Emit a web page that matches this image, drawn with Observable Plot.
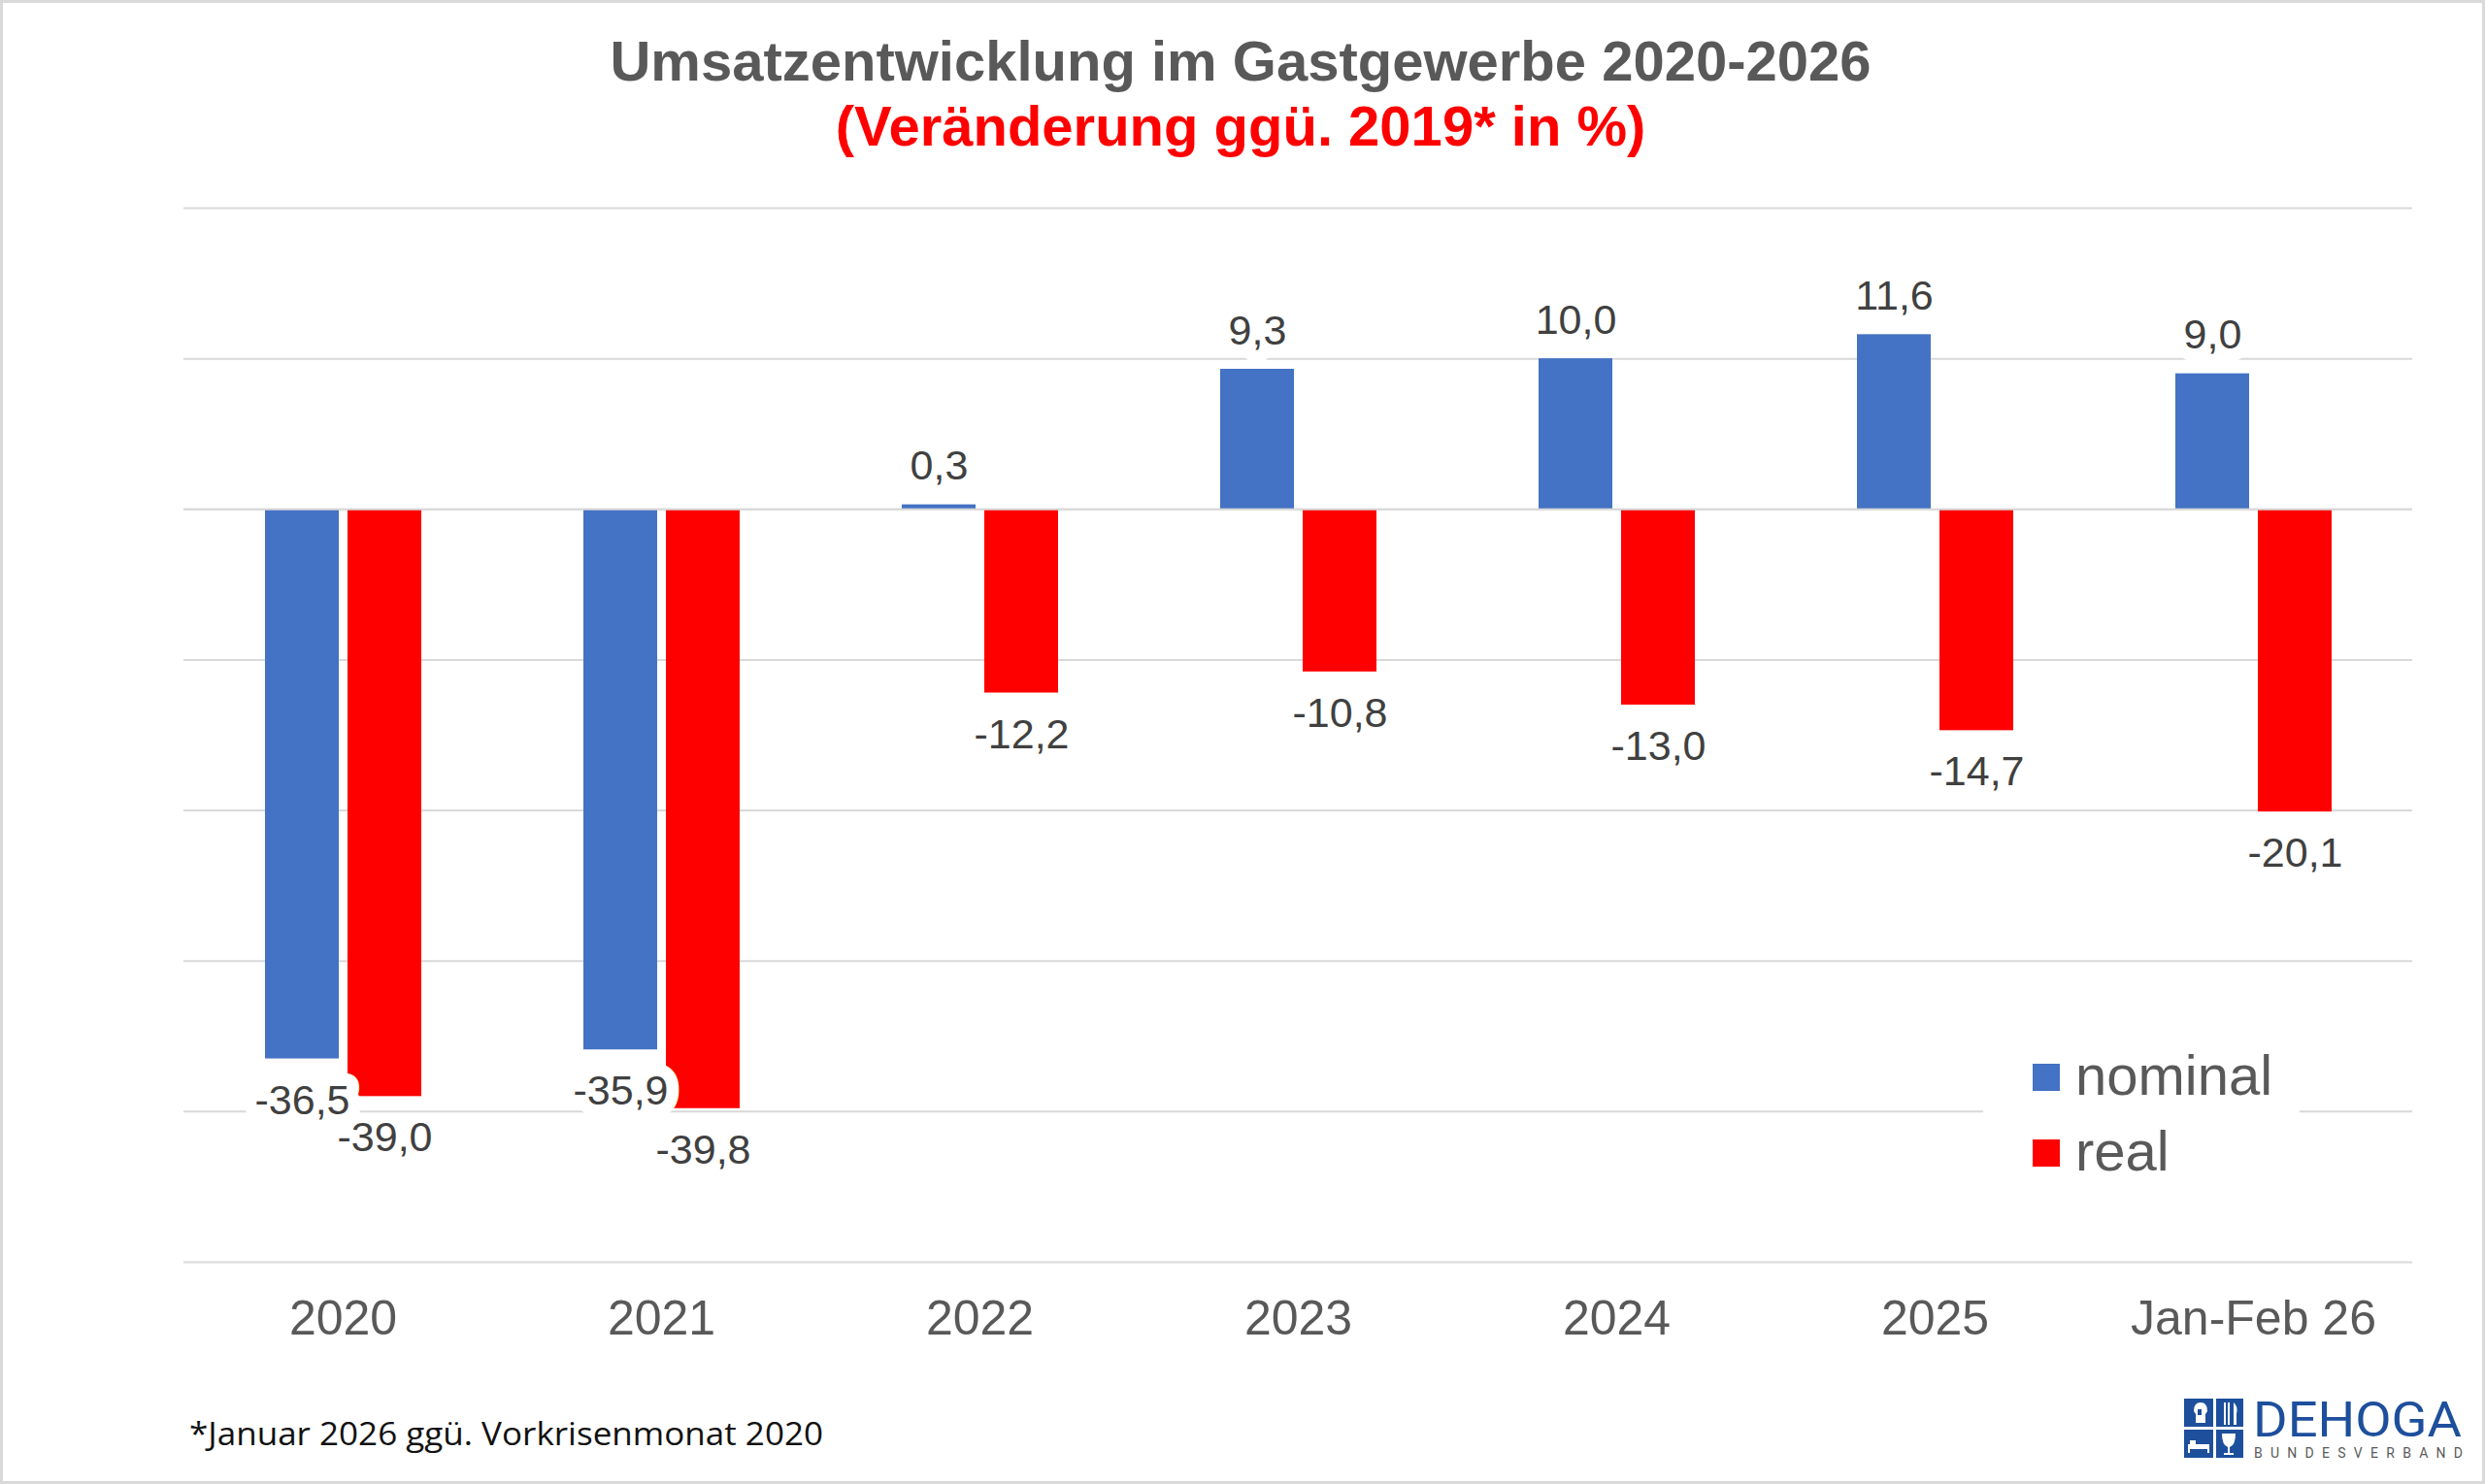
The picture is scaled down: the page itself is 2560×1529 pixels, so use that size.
<!DOCTYPE html>
<html>
<head>
<meta charset="utf-8">
<script src="https://cdn.jsdelivr.net/npm/d3@7"></script>
<script src="https://cdn.jsdelivr.net/npm/@observablehq/plot@0.6"></script>
<style>
html, body { margin: 0; padding: 0; background: #fff; }
#wrap { position: relative; width: 2560px; height: 1529px; overflow: hidden; background: #fff; font-family: "Liberation Sans", Arial, sans-serif; }
#frame { position: absolute; left: 0; top: 0; width: 2554px; height: 1523px; border: 3px solid #d9d9d9; z-index: 10; pointer-events: none; }
#chart { position: absolute; left: 0; top: 0; z-index: 1; }
.title { position: absolute; left: -2px; width: 2560px; text-align: center; font-weight: bold; font-size: 58px; line-height: 58px; white-space: nowrap; z-index: 2; }
#t1 { top: 34px; color: #595959; }
#t2 { top: 101px; color: #ff0000; }
#legend { position: absolute; left: 2043px; top: 1080px; width: 326px; height: 145px; background: #fff; z-index: 3; }
.lg-sw { position: absolute; left: 51px; width: 28px; height: 28px; }
.lg-tx { position: absolute; left: 95px; font-size: 58px; line-height: 58px; color: #595959; white-space: nowrap; }
#foot { position: absolute; left: 0; top: 1440px; z-index: 2; }
#logo { position: absolute; left: 2240px; top: 1430px; z-index: 2; }
</style>
</head>
<body>
<div id="wrap">
  <div id="chart"></div>
  <div class="title" id="t1">Umsatzentwicklung im Gastgewerbe 2020-2026</div>
  <div class="title" id="t2">(Veränderung ggü. 2019* in %)</div>
  <div id="legend"></div>
  <svg id="foot" width="1000" height="80">
    <text x="195" y="49" font-family="Open Sans, sans-serif" font-size="33" fill="#111" textLength="653" lengthAdjust="spacingAndGlyphs">*Januar 2026 ggü. Vorkrisenmonat 2020</text>
  </svg>
  <svg id="logo" width="310" height="90">
    <rect x="10" y="11" width="61" height="61" fill="#1d4f9c"/>
    <rect x="40" y="11" width="3" height="61" fill="#fff"/>
    <rect x="10" y="40" width="61" height="3" fill="#fff"/>
    <path d="M20 24 q0 -9 7 -9 q7 0 7 9 l-2 3 v9 h-10 v-9 z" fill="#fff"/>
    <rect x="24" y="22" width="4" height="6" fill="#1d4f9c"/>
    <rect x="51" y="15" width="2" height="23" fill="#fff"/>
    <rect x="55" y="15" width="2" height="23" fill="#fff"/>
    <path d="M61 15 q5 4 3 12 v11 h-3 z" fill="#fff"/>
    <path d="M14 58 h22 v9 h-2 v-4 h-18 v4 h-2 z" fill="#fff"/>
    <rect x="16" y="54" width="6" height="4" fill="#fff"/>
    <path d="M49 47 h14 q0 12 -6 14 v6 h4 v2 h-10 v-2 h4 v-6 q-6 -2 -6 -14 z" fill="#fff"/>
    <text x="81" y="50" font-family="Roboto, sans-serif" font-weight="400" font-size="50" fill="#1d4f9c" textLength="215" lengthAdjust="spacingAndGlyphs">DEHOGA</text>
    <text x="82" y="72" font-family="Roboto, sans-serif" font-size="14" fill="#5a5a5a" textLength="215" lengthAdjust="spacing">BUNDESVERBAND</text>
  </svg>
  <div id="frame"></div>
</div>
<script>
// ---- data ----
const categories = ["2020", "2021", "2022", "2023", "2024", "2025", "Jan-Feb 26"];
const nominal = [-36.5, -35.9, 0.3, 9.3, 10.0, 11.6, 9.0];
const real = [-39.0, -39.8, -12.2, -10.8, -13.0, -14.7, -20.1];
const seriesNames = ["nominal", "real"];
const seriesColors = ["#4472c4", "#ff0000"];
const gridTicks = [20, 10, 0, -10, -20, -30, -40, -50];
const yDomain = [-50, 20];

// ---- table ----
const rows = [];
categories.forEach((c, i) => {
  rows.push({cat: c, series: seriesNames[0], value: nominal[i]});
  rows.push({cat: c, series: seriesNames[1], value: real[i]});
});
const fmt = v => v.toFixed(1).replace(".", ",");
const nomPos = rows.filter(d => d.series === "nominal" && d.value >= 0);
const nomNeg = rows.filter(d => d.series === "nominal" && d.value < 0);
const realPos = rows.filter(d => d.series === "real" && d.value >= 0);
const realNeg = rows.filter(d => d.series === "real" && d.value < 0);

const labelFont = "Liberation Sans, Arial, sans-serif";
const labelColor = "#404040";
const labelSize = 43;

const plot = Plot.plot({
  width: 2560,
  height: 1529,
  marginTop: 214,
  marginBottom: 229,
  marginLeft: 189,
  marginRight: 75,
  style: {fontFamily: labelFont, background: "transparent"},
  fx: {domain: categories, padding: 0, label: null},
  x: {domain: seriesNames, paddingInner: 0.106, paddingOuter: 0.982, axis: null},
  y: {domain: yDomain, axis: null},
  color: {domain: seriesNames, range: seriesColors},
  marks: [
    Plot.ruleY(gridTicks, {stroke: "#d9d9d9", strokeWidth: 2}),
    Plot.barY(rows, {fx: "cat", x: "series", y: "value", fill: "series"}),
    Plot.ruleY([0], {stroke: "#d9d9d9", strokeWidth: 2}),
    Plot.text(nomPos, {fx: "cat", x: "series", y: "value", text: d => fmt(d.value), lineAnchor: "bottom", dy: -26,
      fontSize: labelSize, fill: labelColor, stroke: "white", strokeWidth: 26, strokeLinejoin: "round", paintOrder: "stroke"}),
    Plot.text(nomNeg, {fx: "cat", x: "series", y: "value", text: d => fmt(d.value), lineAnchor: "top", dy: 26,
      fontSize: labelSize, fill: labelColor, stroke: "white", strokeWidth: 26, strokeLinejoin: "round", paintOrder: "stroke"}),
    Plot.text(realPos, {fx: "cat", x: "series", y: "value", text: d => fmt(d.value), lineAnchor: "bottom", dy: -26,
      fontSize: labelSize, fill: labelColor}),
    Plot.text(realNeg, {fx: "cat", x: "series", y: "value", text: d => fmt(d.value), lineAnchor: "top", dy: 26,
      fontSize: labelSize, fill: labelColor}),
    Plot.axisFx({anchor: "bottom", tickSize: 0, tickPadding: 39, fontSize: 50, color: "#595959", label: null})
  ]
});
document.getElementById("chart").appendChild(plot);

// ---- legend (HTML) ----
const legend = document.getElementById("legend");
const lgTops = [16, 94];
seriesNames.forEach((name, i) => {
  const sw = document.createElement("div");
  sw.className = "lg-sw";
  sw.style.top = lgTops[i] + "px";
  sw.style.background = seriesColors[i];
  legend.appendChild(sw);
  const tx = document.createElement("div");
  tx.className = "lg-tx";
  tx.style.top = (lgTops[i] - 17) + "px";
  tx.textContent = name;
  legend.appendChild(tx);
});
</script>
</body>
</html>
